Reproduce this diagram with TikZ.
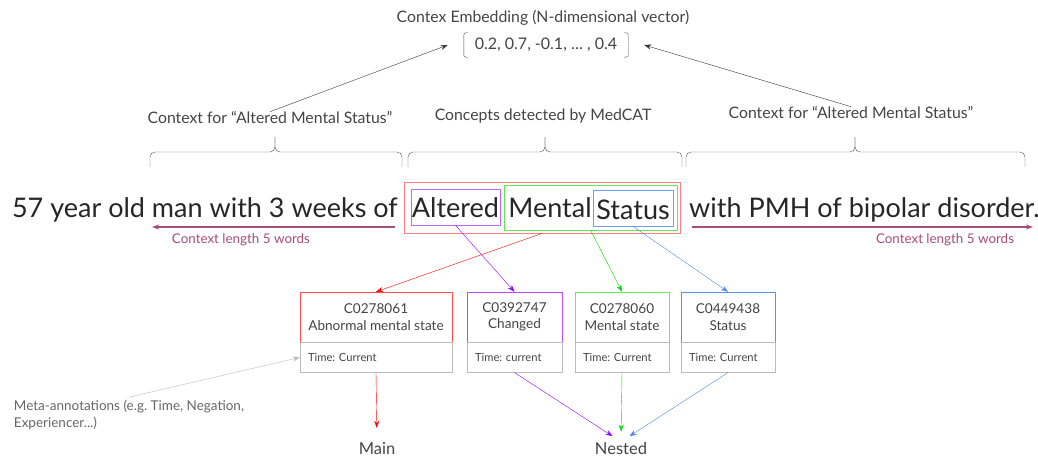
\documentclass[tikz,border=0pt]{standalone}
\usepackage{fontspec}
\setmainfont{Lato}
\frenchspacing
\usetikzlibrary{positioning,fit,arrows.meta}
\definecolor{txtgray}{HTML}{444444}
\definecolor{ctxpink}{HTML}{A64D79}
\definecolor{cred}{HTML}{FF0000}
\definecolor{cpurple}{HTML}{9900FF}
\definecolor{cgreen}{HTML}{00E000}
\definecolor{cblue}{HTML}{4A86E8}
\definecolor{metagray}{HTML}{BBBBBB}

\begin{document}
\begin{tikzpicture}[x=1pt,y=-1pt,>={Stealth[length=7pt,width=5pt]},
    font=\fontsize{15.8}{19}\selectfont,text=txtgray]
    \tikzset{lbl/.style={inner sep=0pt},
      sentence/.style={inner sep=0pt,anchor=base,text=black!85,font=\fontsize{27}{30}\selectfont},
      word/.style={sentence,text height=29pt,text depth=7pt,minimum width=#1},
      wordbox/.style={draw=#1,inner sep=0pt},
      concept/.style={draw=#1,minimum width=\cwidth,minimum height=50pt,align=center,
        font=\fontsize{13.6}{16.5}\selectfont,inner sep=2pt},
      meta/.style={draw=metagray,minimum height=30pt,text width=\cwidth-16pt,inner xsep=8pt,
        align=left,font=\fontsize{11.2}{13}\selectfont},
      ctx/.style={draw=ctxpink,line width=1.2pt},
      ctxlbl/.style={lbl,text=ctxpink,font=\fontsize{13.4}{16}\selectfont},
      outcome/.style={lbl,anchor=base,font=\fontsize{16.5}{19}\selectfont}}
    \useasboundingbox (0,0) rectangle (1038,457);

    % embedding
    \node[lbl] (title) at (543,18) {Contex Embedding (N-dimensional vector)};
    \node[lbl,minimum width=196pt,minimum height=24pt,font=\fontsize{16}{19}\selectfont] (vec) at (546,45)
      {0.2, 0.7, -0.1, … , 0.4};
    \draw[black!70,rounded corners=2pt] ([xshift=20pt]vec.north west) -- ([xshift=16pt]vec.north west)
      -- ([xshift=16pt]vec.south west) -- ([xshift=20pt]vec.south west);
    \draw[black!70,rounded corners=2pt] ([xshift=-20pt]vec.north east) -- ([xshift=-16pt]vec.north east)
      -- ([xshift=-16pt]vec.south east) -- ([xshift=-20pt]vec.south east);

    \node[lbl] (lctx) at (270,118) {Context for “Altered Mental Status”};
    \node[lbl] (mctx) at (543,116) {Concepts detected by MedCAT};
    \node[lbl] (rctx) at (851,113) {Context for “Altered Mental Status”};

    \foreach \a/\m/\b in {150/275/402, 408/545/682, 686/855/1025} {
      \draw[black!70,rounded corners=5pt] (\a,167) -- (\a,152) -- (\m,152) -- (\m,137);
      \draw[black!70,rounded corners=5pt] (\b,167) -- (\b,152) -- (\m,152) -- (\m,137);
    }

    % sentence
    \node[sentence,anchor=base east] (pre) at (398,218) {57 year old man with 3 weeks of};
    \node[word=89pt] (w1) at (455.5,218) {Altered};
    \node[word=80pt] (w2) at (550,218) {Mental};
    \node[word=80pt] (w3) at (633,219) {Status};
    \node[wordbox=cpurple!60,fit=(w1)] (pbox) {};
    \node[wordbox=cblue!80,fit=(w3)] (bbox) {};
    \node[draw=cgreen!65,fit=(w2)(w3),inner sep=4pt] (gbox) {};
    \node[draw=cred!50,fit=(w1)(w3),inner sep=7pt] (rbox) {};
    \node[sentence,anchor=base west] (post) at (689,218) {with PMH of bipolar disorder.};

    \coordinate (lstart) at (395,227);
    \coordinate (lend) at (152,227);
    \coordinate (rstart) at (692,227);
    \coordinate (rend) at (1033,227);
    \draw[ctx,->] (lstart) -- (lend);
    \draw[ctx,->] (rstart) -- (rend);
    \node[ctxlbl] (llen) at (241,240) {Context length 5 words};
    \node[ctxlbl] (rlen) at (945,240) {Context length 5 words};

    % concepts
    \def\cwidth{152pt}
    \node[concept=cred!70] (c1) at (376,317) {C0278061\\Abnormal mental state};
    \node[meta,below=0pt of c1] (m1) {Time: Current};
    \def\cwidth{95pt}
    \node[concept=cpurple!70] (c2) at (514.5,317) {C0392747\\Changed};
    \node[meta,below=0pt of c2] (m2) {Time: current};
    \def\cwidth{94pt}
    \node[concept=cgreen!60] (c3) at (622,317) {C0278060\\Mental state};
    \node[meta,below=0pt of c3] (m3) {Time: Current};
    \node[concept=cblue!90] (c4) at (728,317) {C0449438\\Status};
    \node[meta,below=0pt of c4] (m4) {Time: Current};

    \node[outcome] (main) at (377,454) {Main};
    \node[outcome] (nested) at (621,454) {Nested};
    \node[lbl,text=black!60,align=left,font=\fontsize{13.5}{16.5}\selectfont] (metalbl) at (129,415)
      {Meta-annotations (e.g. Time, Negation,\\Experiencer...)};

    \path[->]
    (rbox.south) edge [cred] (c1.north)
    (pbox.south) edge [cpurple] (c2.north)
    (gbox.south) edge [cgreen] (c3.north)
    (bbox.south) edge [cblue] (c4.north)
    (m1.south) edge [cred,shorten >=14pt] (main.north)
    (m2.south) edge [cpurple,shorten >=10pt] (nested.north)
    (m3.south) edge [cgreen,shorten >=10pt] (nested.north)
    (m4.south) edge [cblue,shorten >=10pt] (nested.north)
    ([yshift=3pt]metalbl.north) edge [metagray] (m1.west)
    (lctx.north) edge [black!80] (vec.west)
    (rctx.north) edge [black!80] (vec.east);
\end{tikzpicture}
\end{document}
